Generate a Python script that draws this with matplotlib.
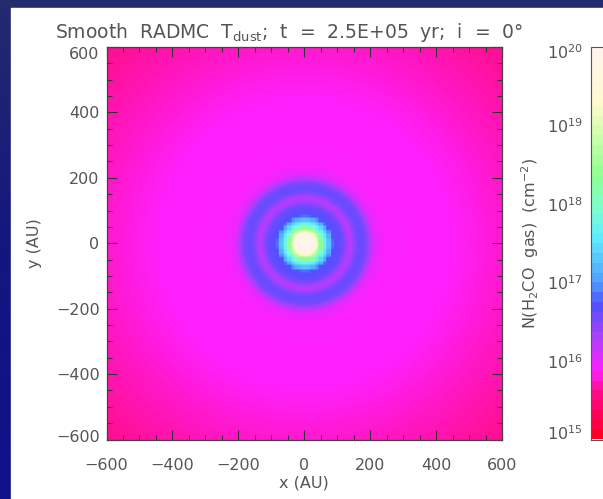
import numpy as np
import matplotlib
matplotlib.use('Agg')
import matplotlib.pyplot as plt
from matplotlib.colors import LinearSegmentedColormap, LogNorm
from matplotlib.patches import Rectangle
from matplotlib.ticker import MultipleLocator
from matplotlib.transforms import ScaledTranslation

plt.rcParams['font.family'] = 'DejaVu Sans'
plt.rcParams['mathtext.fontset'] = 'custom'
plt.rcParams['mathtext.rm'] = 'DejaVu Sans'
plt.rcParams['mathtext.default'] = 'regular'

# radial column density profile (AU, log10 cm^-2)
radius = [0, 25, 33, 44, 54, 66, 78, 88, 112, 124, 138, 152, 165, 182, 196, 212, 240, 300, 440, 520, 600, 720, 850]
log_n = [20.0, 19.9, 19.5, 18.6, 18.0, 17.5, 17.05, 16.68, 16.6, 16.4, 16.2, 16.45, 16.6, 16.55, 16.3, 15.98, 15.88, 15.86, 15.85, 15.8, 15.74, 15.66, 15.58]

cbar_levels = [15.0, 15.3, 15.6, 15.85, 16.3, 16.7, 17.0, 17.6, 18.0, 18.4, 19.0, 19.35, 20.0]
cbar_colors = ['#ff0028', '#ff0060', '#ff1098', '#ff20ff', '#a840ff', '#5050ff', '#50a0ff', '#60f0ff',
               '#80ffc8', '#90ff90', '#d8ffb0', '#fff8d0', '#fff4ec']

xy_ticks = [-600, -400, -200, 0, 200, 400, 600]
cbar_ticks = [1e15, 1e16, 1e17, 1e18, 1e19, 1e20]

W, H = 603, 499
text_col = '#555555'


def box(x0, y0, x1, y1):
    return [x0 / W, 1 - y1 / H, (x1 - x0) / W, (y1 - y0) / H]


fig = plt.figure(figsize=(W / 100, H / 100), dpi=100, facecolor='#12127e')

# slide background and the white panel
bg = fig.add_axes([0, 0, 1, 1], zorder=0)
bg.axis('off')
bg.imshow(np.linspace(0, 1, 60).reshape(-1, 1), aspect='auto', extent=[0, 1, 0, 1],
          cmap=LinearSegmentedColormap.from_list('bg', ['#242a6e', '#14167f', '#10108a']))
bg.add_patch(Rectangle((11 / W, 0), 1, 1 - 8 / H, color='white', transform=bg.transAxes))

stops = [((l - 15) / 5, c) for l, c in zip(cbar_levels, cbar_colors)]
cmap_smooth = LinearSegmentedColormap.from_list('radmc', stops, N=256)
cmap_bands = LinearSegmentedColormap.from_list('radmc_bands', stops, N=40)
norm = LogNorm(1e15, 1e20)

# coarse cells near the middle, like the model grid
g = np.arange(-600, 601, 3.0)
xx, yy = np.meshgrid(g, g)
r = np.hypot(xx, yy)
rc = np.hypot(np.round(xx / 12) * 12, np.round(yy / 12) * 12)
r = np.where((r > 42) & (r < 92), rc, r)
img = 10 ** np.interp(r, radius, log_n)

ax = fig.add_axes(box(106.5, 47, 502, 439.5), zorder=2)
ax.imshow(img, extent=[-600, 600, -600, 600], origin='lower', cmap=cmap_smooth, norm=norm,
          aspect='auto', interpolation='bilinear')
ax.set_xlim(-600, 600)
ax.set_ylim(-600, 600)
ax.set_xticks(xy_ticks)
ax.set_yticks(xy_ticks)
ax.xaxis.set_minor_locator(MultipleLocator(50))
ax.yaxis.set_minor_locator(MultipleLocator(50))
ax.tick_params(which='major', direction='in', top=True, right=True, length=7, width=0.8,
               color='#333333', labelsize=11.5, labelcolor=text_col)
ax.tick_params(which='minor', direction='in', top=True, right=True, length=3.5, width=0.8, color='#333333')
ax.tick_params(axis='x', which='major', pad=13)
ax.tick_params(axis='y', which='major', pad=5)
ylabels = ax.get_yticklabels()
ylabels[0].set_va('bottom')
ylabels[0].set_transform(ylabels[0].get_transform() + ScaledTranslation(0, -5 / 100, fig.dpi_scale_trans))
ylabels[-1].set_va('top')
for s in ax.spines.values():
    s.set_color('#444444')
    s.set_linewidth(0.9)
ax.set_xlabel('x (AU)', fontsize=11.5, color=text_col)
ax.set_ylabel('y (AU)', fontsize=11.5, color=text_col)
ax.xaxis.set_label_coords(0.5, -(483 - 439.5) / 392.5, transform=ax.transAxes)
ax.xaxis.label.set_va('center')
ax.yaxis.set_label_coords((35 - 106.5) / 395.5, 0.5, transform=ax.transAxes)
ax.yaxis.label.set_va('center')

fig.text(55 / W, 1 - 38 / H,
         'Smooth  RADMC  T$_{dust}$;  t  =  2.5E+05  yr;  i  =  0\u00b0',
         fontsize=13.5, color=text_col, ha='left', va='baseline', zorder=5)

# colorbar runs off the right edge of the crop
cax = fig.add_axes(box(591, 47, 620, 439.5), zorder=2)
sm = plt.cm.ScalarMappable(norm=norm, cmap=cmap_bands)
cb = fig.colorbar(sm, cax=cax)
cb.set_ticks(cbar_ticks)
cb.minorticks_off()
cax.yaxis.set_ticks_position('left')
cax.yaxis.set_label_position('left')
cax.tick_params(length=0, labelsize=11.5, labelcolor=text_col, pad=6)
cb.outline.set_edgecolor('#555555')
cb.set_label('N(H$_2$CO  gas)  (cm$^{-2}$)', fontsize=11.5, color=text_col)
cax.yaxis.set_label_coords((530 - 591) / 29, 0.5, transform=cax.transAxes)
cax.yaxis.label.set_va('center')

# the reference squeezes these labels a little, so they sit off their ticks
label_shift_px = [-1, -8, -8, -8, -8, -12]
for lab, dy in zip(cax.get_yticklabels(), label_shift_px):
    lab.set_va('baseline')
    lab.set_transform(lab.get_transform() + ScaledTranslation(0, dy / 100, fig.dpi_scale_trans))

fig.savefig('out.png', dpi=100)
